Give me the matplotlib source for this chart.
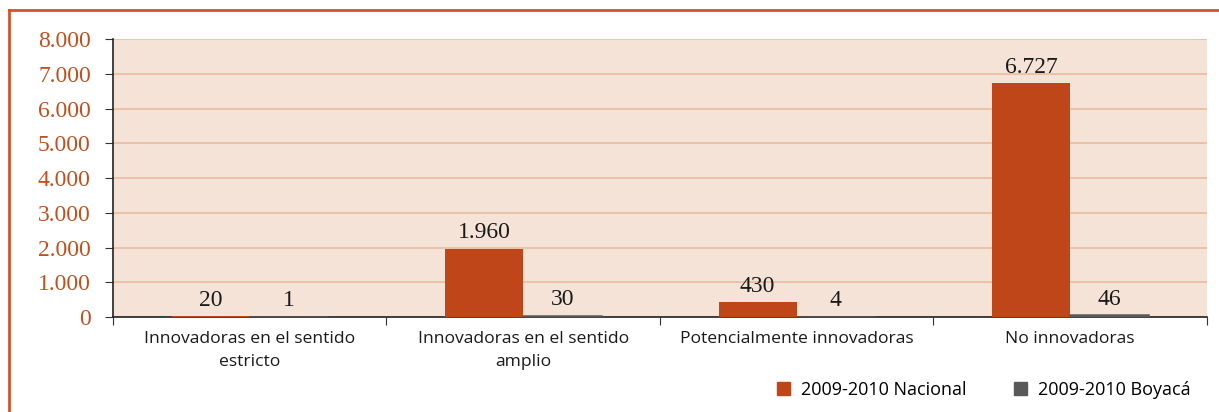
import matplotlib
matplotlib.use('Agg')
import matplotlib.pyplot as plt
from matplotlib.lines import Line2D
from matplotlib.patches import Patch
import numpy as np

# Datos
categorias = ['Innovadoras en el sentido\nestricto', 'Innovadoras en el sentido\namplio',
              'Potencialmente innovadoras', 'No innovadoras']
nacional = [20, 1960, 430, 6727]
boyaca = [1, 30, 4, 46]
series = ['2009-2010 Nacional', '2009-2010 Boyacá']

# Colores
COLOR_NACIONAL = '#BE4619'
COLOR_BOYACA = '#595959'
COLOR_FONDO = '#F5E3D8'
COLOR_GRID = '#EBBBA0'
COLOR_EJE_Y = '#C0511F'
COLOR_MARCO = '#D2542A'

def fmt_miles(v):
    return f'{v:,.0f}'.replace(',', '.')

fig = plt.figure(figsize=(12.19, 4.12), dpi=100)
ax = fig.add_axes([0.0927, 0.2306, 0.8973, 0.6744])
ax.set_facecolor(COLOR_FONDO)

x = np.arange(len(categorias))
ancho = 0.285
b1 = ax.bar(x - ancho / 2, nacional, ancho, color=COLOR_NACIONAL, zorder=3)
b2 = ax.bar(x + ancho / 2, boyaca, ancho, color=COLOR_BOYACA, edgecolor=COLOR_BOYACA,
            linewidth=1.8, zorder=3)

for barras, valores in [(b1, nacional), (b2, boyaca)]:
    for b, v in zip(barras, valores):
        ax.annotate(fmt_miles(v), (b.get_x() + b.get_width() / 2, v),
                    xytext=(0, 4), textcoords='offset points', ha='center', va='bottom',
                    fontsize=17, family='Liberation Serif', color='#1a1a1a', zorder=4)

ax.set_ylim(0, 8000)
ax.set_yticks(np.arange(0, 8001, 1000))
ax.set_yticklabels([fmt_miles(v) for v in np.arange(0, 8001, 1000)],
                   family='Liberation Serif', fontsize=17, color=COLOR_EJE_Y)
ax.yaxis.grid(True, color=COLOR_GRID, linewidth=1.2, zorder=0)
ax.set_axisbelow(True)

ax.set_xlim(-0.5, len(categorias) - 0.5)
ax.set_xticks(np.arange(-0.5, len(categorias)), minor=False)
ax.set_xticklabels([])
ax.set_xticks(x, minor=True)
ax.set_xticklabels(categorias, minor=True, family='Open Sans', fontsize=12.6, color='#1a1a1a',
                   linespacing=1.6)
ax.tick_params(axis='x', which='minor', length=0, pad=10)
ax.tick_params(axis='x', which='major', length=6, color='#333333', direction='out')
ax.tick_params(axis='y', length=6, color='#333333', direction='out', pad=10)

for s in ['top', 'right']:
    ax.spines[s].set_visible(False)
for s in ['left', 'bottom']:
    ax.spines[s].set_color('#222222')
    ax.spines[s].set_linewidth(1.2)

handles = [Patch(color=COLOR_NACIONAL), Patch(color=COLOR_BOYACA)]
fig.legend(handles, series, loc='lower right', bbox_to_anchor=(0.99, -0.008), ncol=2,
           frameon=False, prop={'family': 'Open Sans', 'size': 13},
           handlelength=0.75, handleheight=0.75, columnspacing=2.6, handletextpad=0.6)

# Marco
fig.add_artist(Line2D([9 / 1219, 1.0], [1 - 10 / 412, 1 - 10 / 412], color=COLOR_MARCO, linewidth=2))
fig.add_artist(Line2D([9 / 1219, 9 / 1219], [0, 1 - 10 / 412], color=COLOR_MARCO, linewidth=2))

plt.savefig('out.png', dpi=100)
